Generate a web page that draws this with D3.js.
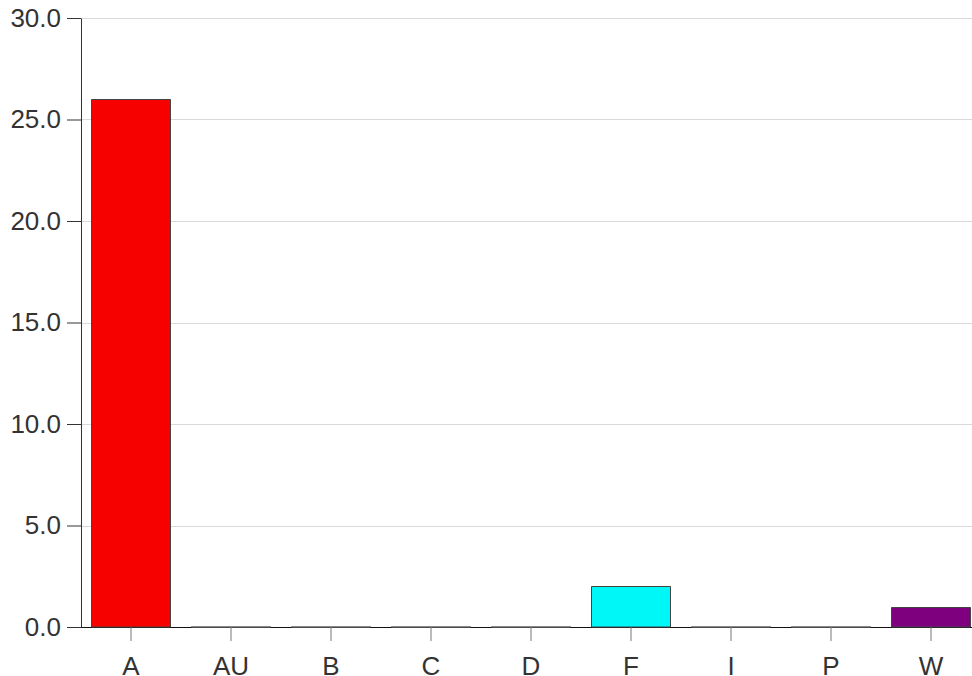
<!DOCTYPE html>
<html>
<head>
<meta charset="utf-8">
<script src="https://cdn.jsdelivr.net/npm/d3@7"></script>
<style>
  body { margin: 0; background: #fff; }
  text { font-family: "Liberation Sans", Arial, sans-serif; }
</style>
</head>
<body>
<div id="chart"></div>
<script>
var categories = ["A", "AU", "B", "C", "D", "F", "I", "P", "W"];
var values = [26, 0, 0, 0, 0, 2, 0, 0, 1];
var colors = ["#f70000", "#f70000", "#f70000", "#f70000", "#f70000", "#00f7f7", "#f70000", "#f70000", "#7f007f"];
var yTicks = [0, 5, 10, 15, 20, 25, 30];

var W = 972, H = 676;
var mLeft = 81, mTop = 18, mBottom = 627;

var svg = d3.select("#chart").append("svg")
  .attr("width", W)
  .attr("height", H);

var x = d3.scaleBand()
  .domain(categories)
  .range([mLeft, 981])
  .paddingInner(0.2)
  .paddingOuter(0.1);

var y = d3.scaleLinear()
  .domain([0, 30])
  .range([mBottom, mTop]);

// grid
svg.append("g").selectAll("line")
  .data(yTicks)
  .enter().append("line")
  .attr("x1", mLeft).attr("x2", W)
  .attr("y1", function(d) { return Math.round(y(d)) + 0.5; })
  .attr("y2", function(d) { return Math.round(y(d)) + 0.5; })
  .attr("stroke", "#d9d9d9")
  .attr("stroke-width", 1);

// x axis
var xAxis = svg.append("g")
  .attr("transform", "translate(0," + mBottom + ")")
  .call(d3.axisBottom(x).tickSize(14).tickSizeOuter(0).tickPadding(16));
xAxis.select(".domain").attr("d", "M" + mLeft + ",0.5H" + W).attr("stroke", "#111");
xAxis.selectAll(".tick line").attr("stroke", "#777");
xAxis.selectAll("text").attr("font-size", "26px").attr("fill", "#333")
  .attr("font-family", "'Liberation Sans', Arial, sans-serif");

// bars
svg.append("g").selectAll("path")
  .data(values)
  .enter().append("path")
  .attr("d", function(d, i) {
    var x0 = x(categories[i]) + 0.5, x1 = x0 + x.bandwidth() - 1;
    var y0 = mBottom, y1 = Math.round(y(d)) + 0.5;
    if (d === 0) y1 = mBottom - 0.5;
    return "M" + x0 + "," + y0 + "V" + y1 + "H" + x1 + "V" + y0 + "Z";
  })
  .attr("fill", function(d, i) { return colors[i]; })
  .attr("stroke", function(d) { return d === 0 ? "#888" : "#444"; })
  .attr("stroke-width", 1);

// y axis
var yAxis = svg.append("g")
  .attr("transform", "translate(" + mLeft + ",0)")
  .call(d3.axisLeft(y).tickValues(yTicks).tickFormat(d3.format(".1f")).tickSize(14).tickSizeOuter(0).tickPadding(6));
yAxis.select(".domain").attr("stroke", "#333");
yAxis.selectAll(".tick line").attr("stroke", "#333");
yAxis.selectAll("text").attr("font-size", "26px").attr("fill", "#333")
  .attr("font-family", "'Liberation Sans', Arial, sans-serif");
</script>
</body>
</html>
